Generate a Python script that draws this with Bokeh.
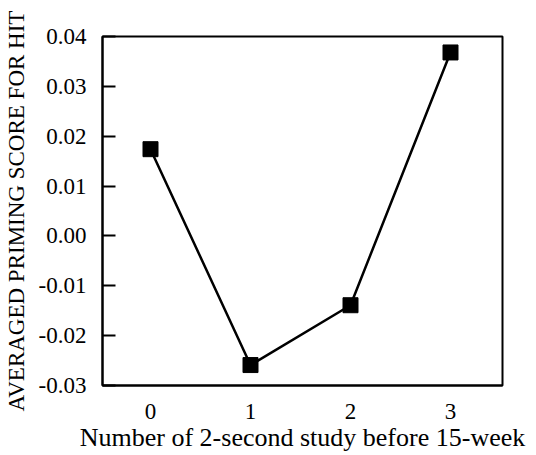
from bokeh.plotting import figure
from bokeh.models import FixedTicker, NumeralTickFormatter, Range1d
from bokeh.embed import file_html
from bokeh.resources import INLINE

# Data
study_counts = [0, 1, 2, 3]
priming_scores = [0.0174, -0.0259, -0.0139, 0.0368]
y_ticks = [-0.03, -0.02, -0.01, 0.00, 0.01, 0.02, 0.03, 0.04]
x_ticks = [0, 1, 2, 3]

FONT = "Liberation Serif"

p = figure(frame_width=400, frame_height=349, output_backend="svg", toolbar_location=None,
           x_range=Range1d(-0.48, 3.52), y_range=Range1d(-0.03, 0.04),
           min_border_left=102, min_border_right=26, min_border_top=36, min_border_bottom=60)

p.line(study_counts, priming_scores, line_color="black", line_width=2.5)
p.scatter(study_counts, priming_scores, marker="square", size=15,
          fill_color="black", line_color="black")

p.xgrid.visible = False
p.ygrid.visible = False
p.background_fill_color = "white"
p.border_fill_color = "white"
p.outline_line_color = "black"
p.outline_line_width = 2
p.outline_line_alpha = 1.0

# Y axis
p.yaxis.ticker = FixedTicker(ticks=y_ticks)
p.yaxis.formatter = NumeralTickFormatter(format="0.00")
p.yaxis.major_tick_in = 13
p.yaxis.major_tick_out = 0
p.yaxis.minor_tick_line_color = None
p.yaxis.axis_line_width = 2
p.yaxis.major_tick_line_width = 2
p.yaxis.major_label_text_font = FONT
p.yaxis.major_label_text_font_size = "23px"
p.yaxis.major_label_text_color = "black"
p.yaxis.major_label_standoff = 16
p.yaxis.axis_label = "AVERAGED PRIMING SCORE FOR HIT"
p.yaxis.axis_label_text_font = FONT
p.yaxis.axis_label_text_font_size = "23px"
p.yaxis.axis_label_text_font_style = "normal"
p.yaxis.axis_label_text_color = "black"
p.yaxis.axis_label_standoff = 7

# X axis
p.xaxis.ticker = FixedTicker(ticks=x_ticks)
p.xaxis.major_tick_in = 0
p.xaxis.major_tick_out = 0
p.xaxis.minor_tick_line_color = None
p.xaxis.axis_line_width = 2
p.xaxis.major_label_text_font = FONT
p.xaxis.major_label_text_font_size = "23px"
p.xaxis.major_label_text_color = "black"
p.xaxis.major_label_standoff = 18
p.xaxis.axis_label = "Number of 2-second study before 15-week"
p.xaxis.axis_label_text_font = FONT
p.xaxis.axis_label_text_font_size = "26px"
p.xaxis.axis_label_text_font_style = "normal"
p.xaxis.axis_label_text_color = "black"
p.xaxis.axis_label_standoff = 1

open("out.html", "w").write(file_html(p, INLINE))
